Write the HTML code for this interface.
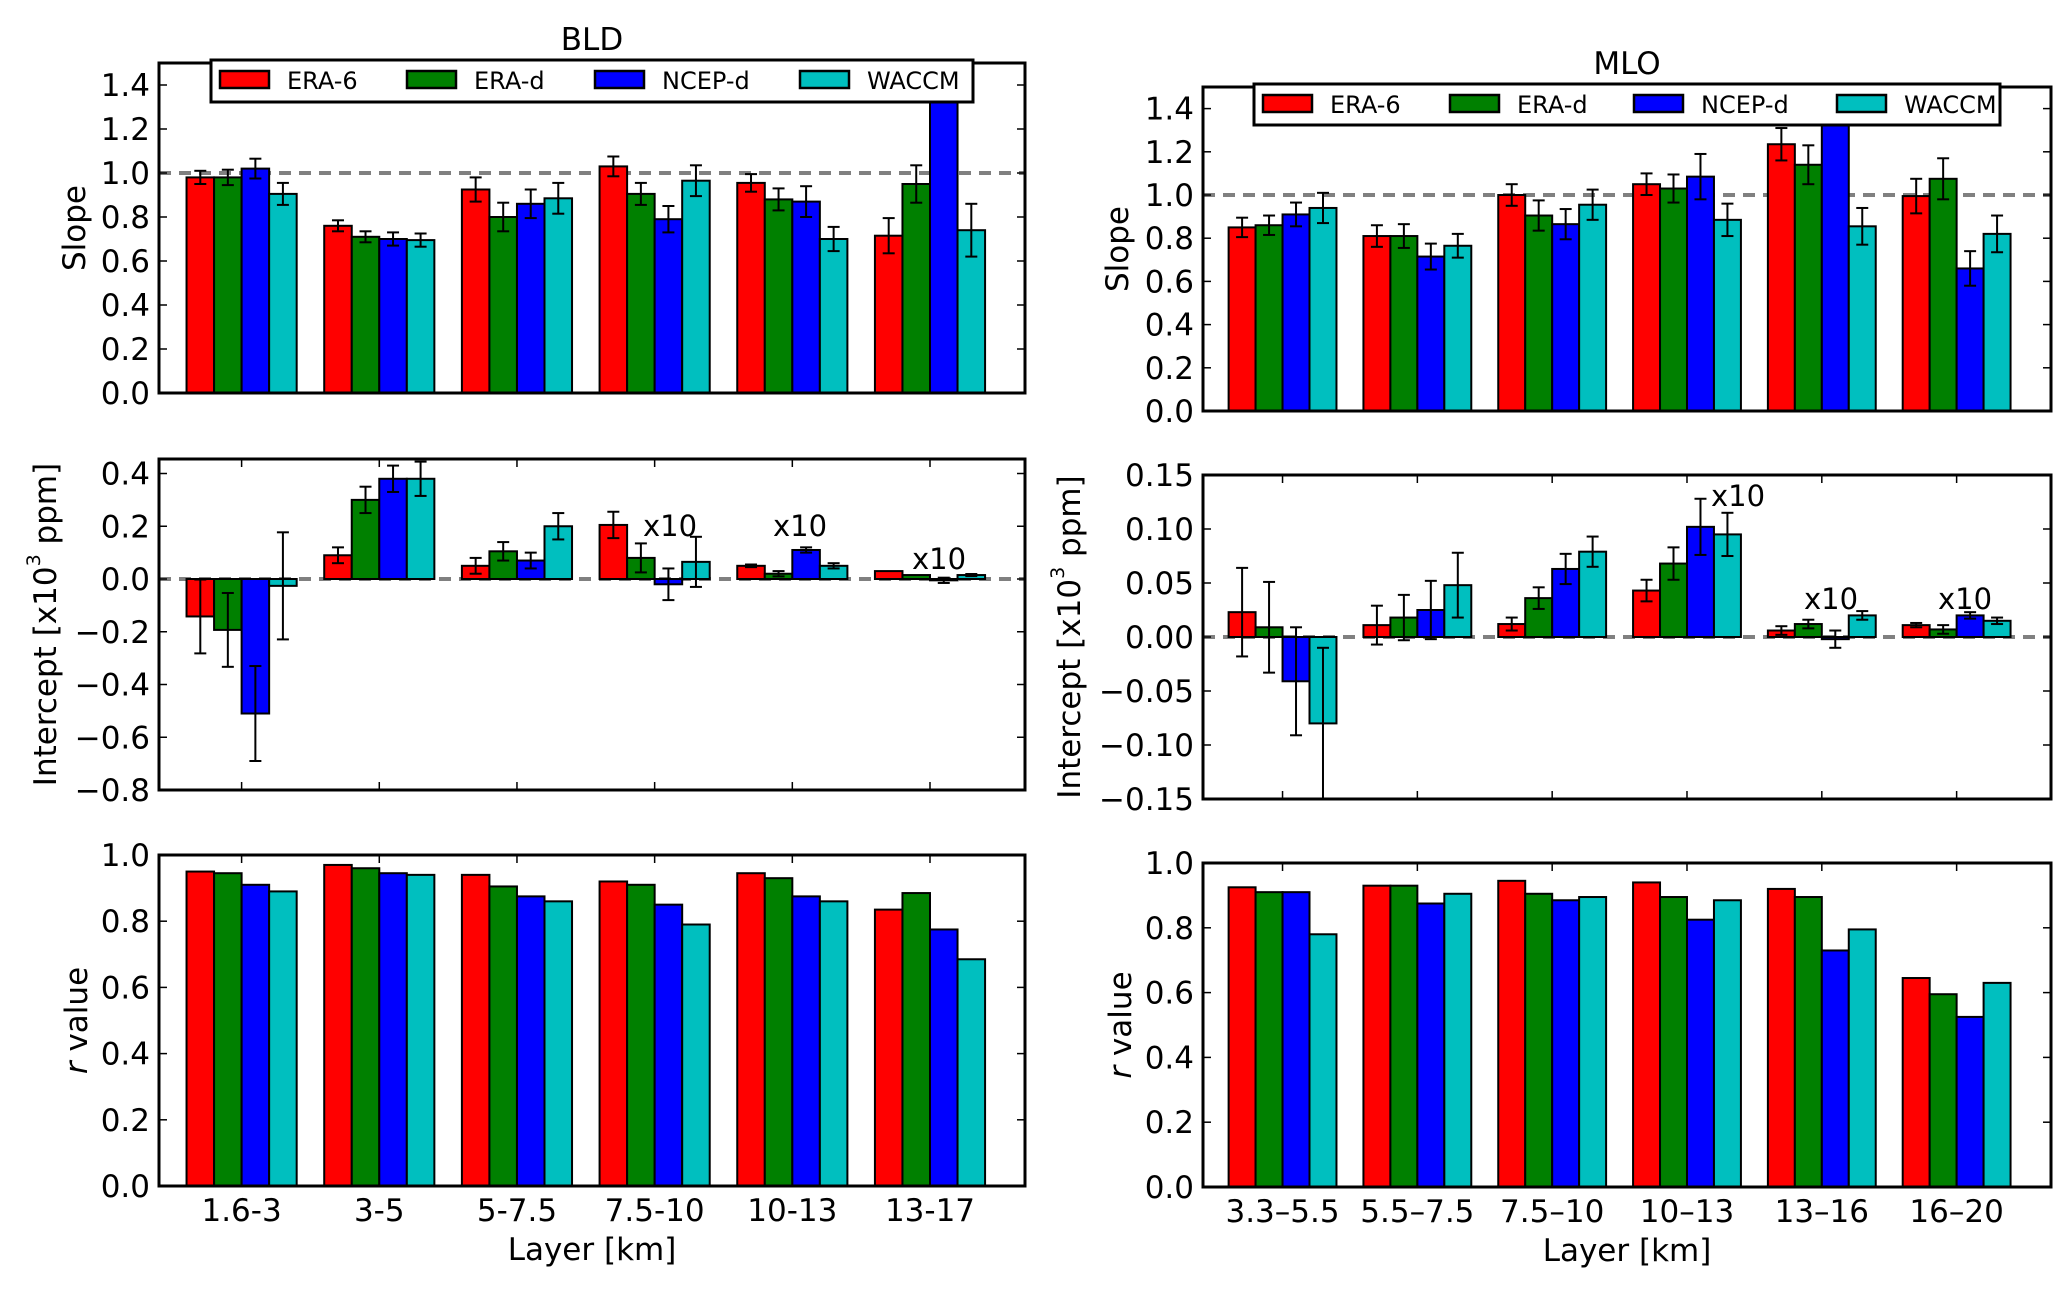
<!DOCTYPE html>
<html><head><meta charset="utf-8"><style>
html,body{margin:0;padding:0;background:#fff}
svg{display:block}
text{font-family:"DejaVu Sans","Liberation Sans",sans-serif;fill:#000}
</style></head><body>
<svg id="chart" width="2067" height="1294" viewBox="0 0 2067 1294" xmlns="http://www.w3.org/2000/svg"></svg>
<script>
const seriesNames = ["ERA-6","ERA-d","NCEP-d","WACCM"];
const seriesColors = ["#ff0000","#008000","#0000ff","#00bfbf"];
const catsBLD = ["1.6-3","3-5","5-7.5","7.5-10","10-13","13-17"];
const catsMLO = ["3.3\u20135.5","5.5\u20137.5","7.5\u201310","10\u201313","13\u201316","16\u201320"];

const bldSlope = [[0.98,0.98,1.02,0.905],[0.76,0.71,0.70,0.695],[0.925,0.80,0.86,0.885],[1.03,0.905,0.79,0.965],[0.955,0.88,0.87,0.70],[0.715,0.95,1.6,0.74]];
const bldSlopeErr = [[0.03,0.035,0.045,0.05],[0.025,0.025,0.03,0.03],[0.055,0.065,0.065,0.07],[0.045,0.05,0.06,0.07],[0.04,0.05,0.07,0.055],[0.08,0.085,0,0.12]];
const mloSlope = [[0.85,0.86,0.91,0.94],[0.81,0.81,0.715,0.765],[1.00,0.905,0.865,0.955],[1.05,1.03,1.085,0.885],[1.235,1.14,1.6,0.855],[0.995,1.075,0.66,0.82]];
const mloSlopeErr = [[0.045,0.045,0.055,0.07],[0.05,0.055,0.06,0.055],[0.05,0.07,0.07,0.07],[0.05,0.065,0.105,0.075],[0.075,0.09,0,0.085],[0.08,0.095,0.08,0.085]];
const bldInt = [[-0.142,-0.193,-0.51,-0.026],[0.09,0.30,0.38,0.38],[0.05,0.105,0.07,0.20],[0.205,0.08,-0.02,0.065],[0.05,0.02,0.11,0.05],[0.03,0.015,-0.005,0.015]];
const bldIntErr = [[0.14,0.14,0.18,0.203],[0.03,0.05,0.05,0.065],[0.03,0.035,0.03,0.05],[0.05,0.055,0.06,0.095],[0.005,0.01,0.01,0.01],[0,0,0.01,0.004]];
const mloInt = [[0.023,0.009,-0.041,-0.08],[0.011,0.018,0.025,0.048],[0.012,0.036,0.063,0.079],[0.043,0.068,0.102,0.095],[0.006,0.012,-0.002,0.02],[0.011,0.007,0.02,0.015]];
const mloIntErr = [[0.041,0.042,0.05,0.07],[0.018,0.021,0.027,0.03],[0.006,0.01,0.014,0.014],[0.01,0.015,0.026,0.02],[0.004,0.004,0.008,0.004],[0.002,0.004,0.003,0.003]];
const bldR = [[0.95,0.945,0.91,0.89],[0.97,0.96,0.945,0.94],[0.94,0.905,0.875,0.86],[0.92,0.91,0.85,0.79],[0.945,0.93,0.875,0.86],[0.835,0.885,0.775,0.685]];
const mloR = [[0.925,0.91,0.91,0.78],[0.93,0.93,0.875,0.905],[0.945,0.905,0.885,0.895],[0.94,0.895,0.825,0.885],[0.92,0.895,0.73,0.795],[0.645,0.595,0.525,0.63]];

const slopeTicks = [0,0.2,0.4,0.6,0.8,1.0,1.2,1.4];
const bldIntTicks = [-0.8,-0.6,-0.4,-0.2,0,0.2,0.4];
const mloIntTicks = [-0.15,-0.10,-0.05,0,0.05,0.10,0.15];
const rTicks = [0,0.2,0.4,0.6,0.8,1.0];
const bldX10 = [3,4,5];
const mloX10 = [3,4,5];

const NS="http://www.w3.org/2000/svg";
const svg=document.getElementById('chart');
function mk(tag,attrs,parent){const e=document.createElementNS(NS,tag);for(const k in attrs)e.setAttribute(k,attrs[k]);(parent||svg).appendChild(e);return e;}
let clipId=0;
const TF=31;

function panel(o){
  const g=mk('g',{});
  
  
  const xs=v=>o.x0+(v-o.xmin)/(o.xmax-o.xmin)*(o.x1-o.x0);
  const ys=v=>o.y1-(v-o.ymin)/(o.ymax-o.ymin)*(o.y1-o.y0);
  const cid='c'+(clipId++);
  const cp=mk('clipPath',{id:cid},g);mk('rect',{x:o.x0,y:o.y0,width:o.x1-o.x0,height:o.y1-o.y0},cp);
  const plot=mk('g',{'clip-path':'url(#'+cid+')'},g);
  if(o.ref!==undefined){
    const l=mk('line',{x1:o.x0,x2:o.x1,y1:ys(o.ref),y2:ys(o.ref),stroke:'#808080','stroke-width':4,'stroke-dasharray':'12 8'},plot);
    
    
  }
  const bw=0.2;
  o.vals.forEach((grp,i)=>{
    grp.forEach((v,j)=>{
      const xl=xs(i+j*bw), xr=xs(i+(j+1)*bw);
      const ya=ys(Math.max(v,0)), yb=ys(Math.min(v,0));
      const r=mk('rect',{x:xl,y:ya,width:xr-xl,height:Math.max(yb-ya,0.5),fill:seriesColors[j],stroke:'#000','stroke-width':2},plot);
      
      
    });
  });
  if(o.errs){
    o.vals.forEach((grp,i)=>{grp.forEach((v,j)=>{
      const e=o.errs[i][j]; if(!e) return;
      const xc=xs(i+(j+0.5)*bw);
      const eg=mk('g',{stroke:'#000','stroke-width':2},plot);
      
      
      mk('line',{x1:xc,x2:xc,y1:ys(v-e),y2:ys(v+e)},eg);
      mk('line',{x1:xc-6,x2:xc+6,y1:ys(v-e),y2:ys(v-e)},eg);
      mk('line',{x1:xc-6,x2:xc+6,y1:ys(v+e),y2:ys(v+e)},eg);
    });});
  }
  const fr=mk('rect',{x:o.x0,y:o.y0,width:o.x1-o.x0,height:o.y1-o.y0,fill:'none',stroke:'#000','stroke-width':3},g);
  
  
  o.yticks.forEach(t=>{
    const y=ys(t);
    mk('line',{x1:o.x0,x2:o.x0+8,y1:y,y2:y,stroke:'#000','stroke-width':1.5},g);
    mk('line',{x1:o.x1,x2:o.x1-8,y1:y,y2:y,stroke:'#000','stroke-width':1.5},g);
    const tx=mk('text',{x:o.x0-9,y:y+11,'text-anchor':'end','font-size':TF},g);
    tx.textContent=(t<0?'\u2212':'')+Math.abs(t).toFixed(o.dec);
    
    
  });
  o.vals.forEach((grp,i)=>{
    const x=xs(i+0.4);
    mk('line',{x1:x,x2:x,y1:o.y1,y2:o.y1-8,stroke:'#000','stroke-width':1.5},g);
    mk('line',{x1:x,x2:x,y1:o.y0,y2:o.y0+8,stroke:'#000','stroke-width':1.5},g);
    if(o.cats){
      const tx=mk('text',{x:x,y:o.y1+35,'text-anchor':'middle','font-size':TF},g);
      tx.textContent=o.cats[i];
      
      
    }
  });
  const cy=(o.y0+o.y1)/2;
  const yl=mk('text',{x:o.ylx,y:cy,'text-anchor':'middle','font-size':31,transform:'rotate(-90 '+o.ylx+' '+cy+')','dominant-baseline':'central'},g);
  yl.innerHTML=o.ylabel;
  
  
  if(o.xlabel){
    const xl=mk('text',{x:(o.x0+o.x1)/2,y:o.y1+74,'text-anchor':'middle','font-size':31},g);
    xl.textContent=o.xlabel;
    
    
  }
  if(o.x10){
    o.x10.forEach((gi,k)=>{
      const t=mk('text',{x:o.x10pos[k][0],y:o.x10pos[k][1],'text-anchor':'middle','font-size':29},g);
      t.textContent='x10';
      
      
    });
  }
  if(o.title){
    const t=mk('text',{x:(o.x0+o.x1)/2,y:o.titleY,'text-anchor':'middle','font-size':31},g);
    t.textContent=o.title;
    
    
  }
  if(o.legend){
    const L=o.legend;
    const lg=mk('g',{},g);
    
    
    mk('rect',{x:L.x,y:L.y,width:L.w,height:L.h,fill:'#fff',stroke:'#000','stroke-width':3},lg);
    seriesNames.forEach((n,j)=>{
      const px=L.x+L.offs[j];
      const e=mk('g',{},lg);
      
      
      mk('rect',{x:px,y:L.y+11,width:49,height:17,fill:seriesColors[j],stroke:'#000','stroke-width':2.5},e);
      const t=mk('text',{x:px+67,y:L.y+29,'font-size':24},e);
      t.textContent=n;
    });
  }
}
const LX={x0:159,x1:1025,xmin:-0.2,xmax:6.09};
const RX={x0:1203,x1:2051,xmin:-0.19,xmax:6.1};
panel(Object.assign({name:'bld-slope-panel',y0:63,y1:393,ymin:0,ymax:1.5,vals:bldSlope,errs:bldSlopeErr,yticks:slopeTicks,dec:1,ref:1,ylabel:'Slope',ylx:75,title:'BLD',titleY:50,
  legend:{x:211,y:60,w:762,h:42,offs:[9,196,384,589]}},LX));
panel(Object.assign({name:'mlo-slope-panel',y0:87,y1:411,ymin:0,ymax:1.5,vals:mloSlope,errs:mloSlopeErr,yticks:slopeTicks,dec:1,ref:1,ylabel:'Slope',ylx:1118,title:'MLO',titleY:74,
  legend:{x:1254,y:84,w:746,h:41,offs:[9,196,380,583]}},RX));
panel(Object.assign({name:'bld-intercept-panel',y0:459,y1:790,ymin:-0.8,ymax:0.455,vals:bldInt,errs:bldIntErr,yticks:bldIntTicks,dec:1,ref:0,ylabel:'Intercept [x10<tspan dy="-12" font-size="19">3</tspan><tspan dy="12"> ppm]</tspan>',ylx:46,
  x10:bldX10,x10pos:[[670,536],[800,536],[939,569]]},LX));
panel(Object.assign({name:'mlo-intercept-panel',y0:475,y1:799,ymin:-0.15,ymax:0.15,vals:mloInt,errs:mloIntErr,yticks:mloIntTicks,dec:2,ref:0,ylabel:'Intercept [x10<tspan dy="-12" font-size="19">3</tspan><tspan dy="12"> ppm]</tspan>',ylx:1070,
  x10:mloX10,x10pos:[[1738,506],[1831,609],[1965,609]]},RX));
panel(Object.assign({name:'bld-r-panel',y0:855,y1:1186,ymin:0,ymax:1.0,vals:bldR,yticks:rTicks,dec:1,ylabel:'<tspan font-style="italic">r</tspan> value',ylx:77,cats:catsBLD,xlabel:'Layer [km]'},LX));
panel(Object.assign({name:'mlo-r-panel',y0:863,y1:1187,ymin:0,ymax:1.0,vals:mloR,yticks:rTicks,dec:1,ylabel:'<tspan font-style="italic">r</tspan> value',ylx:1121,cats:catsMLO,xlabel:'Layer [km]'},RX));
</script>
</body></html>
